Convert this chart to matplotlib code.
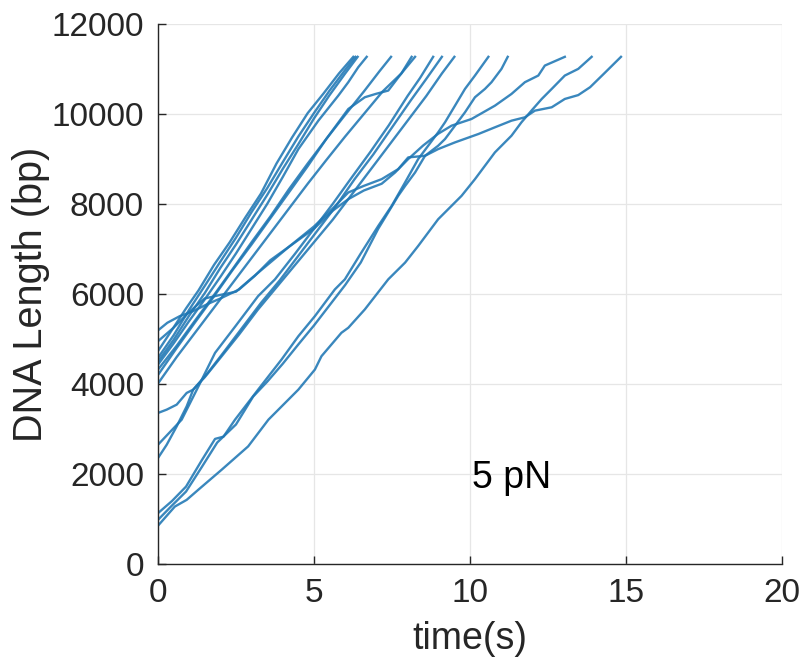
import matplotlib
matplotlib.use("Agg")
import matplotlib.pyplot as plt

# ---- traces: time (s) and DNA length (bp) ----
tr01_t = [0, 0.4, 0.9, 1.3, 1.8, 2.3, 2.8, 3.3, 3.8, 4.3, 4.8, 5.3, 5.8, 6.26]
tr01_bp = [4730, 5150, 5680, 6080, 6650, 7150, 7700, 8230, 8900, 9480, 10020, 10450, 10900, 11270]

tr02_t = [0, 0.5, 1, 1.5, 2, 2.5, 3, 3.5, 4, 4.5, 5, 5.5, 6, 6.33]
tr02_bp = [4580, 5080, 5650, 6180, 6720, 7250, 7820, 8350, 8930, 9500, 10020, 10520, 10980, 11270]

tr03_t = [0, 0.5, 1, 1.5, 2, 2.5, 3, 3.5, 4, 4.5, 5, 5.5, 6, 6.4]
tr03_bp = [4500, 4980, 5520, 6020, 6580, 7100, 7650, 8200, 8780, 9330, 9900, 10420, 10900, 11270]

tr04_t = [0, 0.5, 1, 1.5, 2, 2.5, 3, 3.5, 4, 4.5, 5.14, 5.78, 6.1, 6.42, 6.69]
tr04_bp = [4430, 4900, 5400, 5880, 6380, 6900, 7450, 8000, 8600, 9220, 9851, 10408, 10706, 11040, 11270]

tr05_t = [0, 0.6, 1.2, 1.8, 2.4, 3, 3.6, 4.2, 4.8, 5.4, 6, 6.6, 7.1, 7.47]
tr05_bp = [4320, 4850, 5420, 5980, 6560, 7150, 7720, 8330, 8900, 9450, 9980, 10500, 10950, 11270]

tr06_t = [0, 0.6, 1.2, 1.8, 2.4, 3, 3.6, 4.2, 4.8, 5.4, 6.1, 6.63, 7, 7.38, 7.8, 8.13]
tr06_bp = [4200, 4800, 5380, 5950, 6540, 7100, 7680, 8260, 8840, 9450, 10111, 10372, 10450, 10520, 10900, 11270]

tr07_t = [0, 0.6, 1.2, 1.8, 2.4, 3, 3.6, 4.2, 4.8, 5.4, 6, 6.6, 7.2, 7.8, 8.24]
tr07_bp = [4010, 4600, 5150, 5700, 6250, 6800, 7350, 7900, 8450, 8980, 9500, 10000, 10500, 10900, 11270]

tr08_t = [0, 0.76, 1.3, 1.83, 2.5, 3.21, 3.75, 4.4, 5, 5.6, 6.2, 6.8, 7.4, 8, 8.4, 8.82]
tr08_bp = [2650, 3207, 3950, 4692, 5300, 5953, 6325, 6900, 7450, 8000, 8580, 9150, 9750, 10400, 10800, 11270]

tr09_t = [0, 0.28, 0.6, 0.92, 1.13, 1.6, 2.1, 2.7, 3.3, 3.9, 4.5, 5.1, 5.7, 6.3, 6.9, 7.5, 8.1, 8.6, 9.1]
tr09_bp = [2354, 2650, 3058, 3503, 3875, 4250, 4700, 5250, 5800, 6300, 6850, 7400, 7950, 8550, 9100, 9700, 10300, 10780, 11270]

tr10_t = [0, 0.28, 0.6, 0.92, 1.13, 1.5, 2, 2.6, 3.2, 3.8, 4.4, 5, 5.6, 6.2, 6.8, 7.4, 8, 8.6, 9.1, 9.5]
tr10_bp = [3356, 3430, 3541, 3801, 3875, 4150, 4580, 5100, 5650, 6150, 6650, 7150, 7650, 8200, 8750, 9300, 9850, 10400, 10900, 11270]

tr11_t = [0, 0.45, 0.9, 1.4, 1.83, 2.1, 2.47, 3.21, 3.96, 4.5, 5.03, 5.67, 5.99, 6.5, 7.06, 7.49, 7.92,
          8.34, 8.66, 8.98, 9.2, 9.52, 9.84, 10.16, 10.59]
tr11_bp = [1129, 1400, 1720, 2300, 2780, 2830, 3207, 3875, 4543, 5062, 5508, 6102, 6325, 6900, 7512, 7958, 8479,
           8998, 9294, 9592, 9815, 10185, 10557, 10854, 11270]

tr12_t = [0, 0.45, 0.9, 1.4, 1.9, 2.5, 3.05, 3.5, 4, 4.5, 5, 5.5, 6, 6.5, 7.06, 7.28, 7.7, 7.92, 8.24, 8.56,
          8.98, 9.2, 9.52, 9.84, 10.16, 10.48, 10.69, 11.01, 11.21]
tr12_bp = [980, 1300, 1610, 2150, 2700, 3100, 3720, 4050, 4450, 4880, 5300, 5750, 6200, 6700, 7450, 7700, 8181,
           8400, 8700, 9071, 9294, 9443, 9740, 10037, 10372, 10557, 10706, 11002, 11270]

tr13_t = [0, 0.54, 0.92, 1.29, 2.04, 2.89, 3.54, 4.5, 5.03, 5.24, 5.88, 6.1, 6.63, 7.38, 7.92, 8.34, 8.98,
          9.73, 10.16, 10.8, 11.33, 11.65, 11.97, 12.3, 12.62, 13.04, 13.47, 13.9]
tr13_bp = [850, 1276, 1425, 1648, 2094, 2613, 3207, 3875, 4321, 4617, 5138, 5249, 5657, 6325, 6697, 7067, 7661,
           8181, 8552, 9147, 9517, 9815, 10074, 10334, 10557, 10854, 11002, 11270]

tr14_t = [0, 0.5, 1, 1.5, 2, 2.5, 3, 3.6, 4.2, 5, 5.6, 6.1, 6.6, 7.17, 7.6, 8.02, 8.5, 8.98, 9.41, 10.05,
          10.8, 11.33, 11.76, 12.19, 12.4, 13.04]
tr14_bp = [4950, 5250, 5600, 5900, 5980, 6050, 6350, 6700, 7050, 7450, 7850, 8107, 8300, 8450, 8700, 8998,
           9300, 9560, 9740, 9889, 10185, 10445, 10706, 10854, 11076, 11270]

tr15_t = [0, 0.3, 0.7, 1.13, 1.6, 2, 2.6, 3.1, 3.6, 4.2, 5, 5.6, 6.1, 6.6, 7.17, 7.7, 8.02, 8.56, 8.98, 9.52,
          10.27, 10.8, 11.33, 11.76, 12.08, 12.62, 13.04, 13.47, 13.85, 14.3, 14.84]
tr15_bp = [5190, 5360, 5508, 5620, 5780, 5900, 6100, 6400, 6750, 7050, 7500, 7900, 8256, 8403, 8552, 8775,
           9035, 9071, 9220, 9369, 9555, 9704, 9851, 9926, 10074, 10149, 10334, 10420, 10595, 10900, 11270]

traces = [
    (tr01_t, tr01_bp), (tr02_t, tr02_bp), (tr03_t, tr03_bp), (tr04_t, tr04_bp),
    (tr05_t, tr05_bp), (tr06_t, tr06_bp), (tr07_t, tr07_bp), (tr08_t, tr08_bp),
    (tr09_t, tr09_bp), (tr10_t, tr10_bp), (tr11_t, tr11_bp), (tr12_t, tr12_bp),
    (tr13_t, tr13_bp), (tr14_t, tr14_bp), (tr15_t, tr15_bp),
]

x_ticks = [0, 5, 10, 15, 20]
y_ticks = [0, 2000, 4000, 6000, 8000, 10000, 12000]

plt.rcParams['font.family'] = ['Liberation Sans', 'DejaVu Sans']
dark = '#262626'

fig = plt.figure(figsize=(8.08, 6.68), dpi=100)
ax = fig.add_axes([0.1955, 0.1557, 0.7723, 0.8084])

for t, bp in traces:
    ax.plot(t, bp, color='#1f77b4', lw=1.7, alpha=0.88, solid_joinstyle='round')

ax.set_xlim(0, 20)
ax.set_ylim(0, 12000)
ax.set_xticks(x_ticks)
ax.set_yticks(y_ticks)
ax.grid(True, color='#e6e6e6', lw=0.9)
ax.set_axisbelow(True)
for s in ['top', 'right']:
    ax.spines[s].set_visible(False)
for s in ['left', 'bottom']:
    ax.spines[s].set_color(dark)
    ax.spines[s].set_linewidth(1.0)
ax.tick_params(direction='in', length=6, width=1, colors=dark, labelsize=24, pad=10)

ax.set_xlabel('time(s)', fontsize=27, color=dark, labelpad=9)
ax.set_ylabel('DNA Length (bp)', fontsize=28.5, color=dark, labelpad=1)
ax.text(10.05, 1900, '5 pN', fontsize=27, color='black', ha='left', va='center')

fig.savefig('out.png', dpi=100)
